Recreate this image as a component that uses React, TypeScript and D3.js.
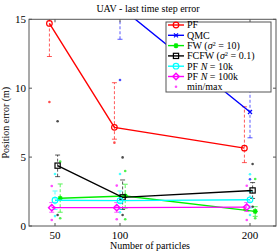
import React from 'react';
import * as d3 from 'd3';

// number of particles (x positions)
const particles = [50, 100, 200];
const xTicks = [50, 100, 200];
const yTicks = [0, 5, 10, 15];

// per-series horizontal jitter (in particles)
const seriesKeys = ['pf', 'qmc', 'fw', 'fcfw', 'pf10k', 'pf100k'];
const seriesColors = ['#ff0000', '#0000ff', '#00ee00', '#000000', '#00ffff', '#ff00ff'];
const seriesJitter = [-4.3, 0, 4, 2, 0, -2.5];

// mean position error
const pfMean = [14.7, 7.16, 5.65];
const qmcMean = [28, 15.9, 8.27];
const fwMean = [2.01, 2.18, 1.06];
const fcfwMean = [4.38, 2.08, 2.58];
const pf10kMean = [1.87, 1.84, 1.9];
const pf100kMean = [1.33, 1.33, 1.37];

// error bar extents
const pfLow = [12.3, 6.3, 4.6];
const pfHigh = [17.1, 10.4, 8.65];
const qmcLow = [24, 13.55, 6.4];
const qmcHigh = [32, 18.2, 10.6];
const fwLow = [1.0, 1.3, 0.7];
const fwHigh = [3.05, 3.03, 1.4];
const fcfwLow = [3.58, 1.2, 2.0];
const fcfwHigh = [5.15, 3.34, 3.15];
const pf10kLow = [1.2, 1.2, 1.3];
const pf10kHigh = [2.54, 2.54, 2.5];
const pf100kLow = [1.0, 1.0, 1.05];
const pf100kHigh = [1.7, 1.7, 1.7];

// min / max dots
const pfMin = [9.0, 6.05, 1.2];
const pfMax = [20, 16, 11];
const qmcMin = [20, 10.6, 3.39];
const qmcMax = [36, 22, 13];
const fwMin = [0.56, 0.49, 0.56];
const fwMax = [4.67, 3.99, 3.41];
const fcfwMin = [0.8, 0.8, 1.4];
const fcfwMax = [7.6, 4.98, 4.5];
const pf10kMin = [0.72, 1.0, 0.8];
const pf10kMax = [3.77, 3.77, 3.76];
const pf100kMin = [0.43, 0.49, 0.43];
const pf100kMax = [2.9, 2.93, 2.92];

const means = [pfMean, qmcMean, fwMean, fcfwMean, pf10kMean, pf100kMean];
const lows = [pfLow, qmcLow, fwLow, fcfwLow, pf10kLow, pf100kLow];
const highs = [pfHigh, qmcHigh, fwHigh, fcfwHigh, pf10kHigh, pf100kHigh];
const mins = [pfMin, qmcMin, fwMin, fcfwMin, pf10kMin, pf100kMin];
const maxs = [pfMax, qmcMax, fwMax, fcfwMax, pf10kMax, pf100kMax];

const W = 280;
const H = 251;
const m = { left: 29, right: 276, top: 19.3, bottom: 226 };
const font = '"Liberation Serif", "DejaVu Serif", serif';
const axisColor = '#555';

const x = d3.scaleLinear().domain([30, 220]).range([m.left, m.right]);
const y = d3.scaleLinear().domain([0, 15]).range([m.bottom, m.top]);

function Marker({ kind, cx, cy, color }: { kind: string; cx: number; cy: number; color: string }) {
  const sw = 1.2;
  if (kind === 'pf' || kind === 'pf10k') {
    return <circle cx={cx} cy={cy} r={2.8} fill="none" stroke={color} strokeWidth={sw} />;
  }
  if (kind === 'qmc') {
    const s = 2;
    return (
      <path d={`M${cx - s},${cy - s}L${cx + s},${cy + s}M${cx - s},${cy + s}L${cx + s},${cy - s}`}
        stroke={color} strokeWidth={sw} />
    );
  }
  if (kind === 'fw') {
    const s = 2.6;
    return (
      <path
        d={`M${cx - s},${cy}L${cx + s},${cy}M${cx},${cy - s}L${cx},${cy + s}M${cx - s * 0.7},${cy - s * 0.7}L${cx + s * 0.7},${cy + s * 0.7}M${cx - s * 0.7},${cy + s * 0.7}L${cx + s * 0.7},${cy - s * 0.7}`}
        stroke={color} strokeWidth={1.3} />
    );
  }
  if (kind === 'fcfw') {
    return <rect x={cx - 2.6} y={cy - 2.6} width={5.2} height={5.2} fill="none" stroke={color} strokeWidth={sw} />;
  }
  // diamond
  const s = 3.2;
  return (
    <path d={`M${cx},${cy - s}L${cx + s},${cy}L${cx},${cy + s}L${cx - s},${cy}Z`}
      fill="none" stroke={color} strokeWidth={1.4} />
  );
}

const legendLabels: React.ReactNode[] = [
  'PF',
  'QMC',
  <>FW (<tspan fontStyle="italic">σ</tspan><tspan dy={-3} fontSize={6.5}>2</tspan><tspan dy={3}> = 10)</tspan></>,
  <>FCFW (<tspan fontStyle="italic">σ</tspan><tspan dy={-3} fontSize={6.5}>2</tspan><tspan dy={3}> = 0.1)</tspan></>,
  <>PF <tspan fontStyle="italic">N</tspan> = 10k</>,
  <>PF <tspan fontStyle="italic">N</tspan> = 100k</>,
  'min/max',
];

export default function App() {
  const line = d3.line<number>();

  return (
    <svg width={W} height={H} style={{ position: 'absolute', left: 0, top: 0, background: '#fff' }}
      fontFamily={font}>
      <defs>
        <clipPath id="plot">
          <rect x={m.left} y={m.top} width={m.right - m.left} height={m.bottom - m.top} />
        </clipPath>
      </defs>

      {/* title */}
      <text x={148} y={12} textAnchor="middle" fontSize={10}>UAV - last time step error</text>

      <g clipPath="url(#plot)">
        {seriesKeys.map((k, si) => {
          const col = seriesColors[si];
          const xs = particles.map(p => x(p + seriesJitter[si]));
          const pts = particles.map((_, i) => [xs[i], y(means[si][i])] as [number, number]);
          return (
            <g key={k}>
              {/* error bars */}
              {particles.map((_, i) => (
                <g key={i} stroke={col} strokeOpacity={0.65} strokeWidth={1}>
                  <line x1={xs[i]} x2={xs[i]} y1={y(lows[si][i])} y2={y(highs[si][i])} strokeDasharray="3,2" />
                  <line x1={xs[i] - 2.5} x2={xs[i] + 2.5} y1={y(lows[si][i])} y2={y(lows[si][i])} />
                  <line x1={xs[i] - 2.5} x2={xs[i] + 2.5} y1={y(highs[si][i])} y2={y(highs[si][i])} />
                </g>
              ))}
              {/* min / max */}
              {particles.map((_, i) => (
                <g key={'mm' + i} fill={col} fillOpacity={0.7}>
                  <circle cx={xs[i]} cy={y(mins[si][i])} r={1.3} />
                  <circle cx={xs[i]} cy={y(maxs[si][i])} r={1.3} />
                </g>
              ))}
            </g>
          );
        })}
        {seriesKeys.map((k, si) => {
          const col = seriesColors[si];
          const pts = particles.map((p, i) => [x(p + seriesJitter[si]), y(means[si][i])] as [number, number]);
          return (
            <g key={'l' + k}>
              <path d={d3.line()(pts) || ''} fill="none" stroke={col} strokeWidth={1.4} />
              {pts.map((p, i) => <Marker key={i} kind={k} cx={p[0]} cy={p[1]} color={col} />)}
            </g>
          );
        })}
      </g>

      {/* axes box */}
      <rect x={m.left} y={m.top} width={m.right - m.left} height={m.bottom - m.top}
        fill="none" stroke={axisColor} strokeWidth={1} />
      {xTicks.map(t => (
        <g key={'xt' + t}>
          <line x1={x(t)} x2={x(t)} y1={m.bottom} y2={m.bottom - 3} stroke={axisColor} />
          <line x1={x(t)} x2={x(t)} y1={m.top} y2={m.top + 3} stroke={axisColor} />
          <text x={x(t)} y={239} textAnchor="middle" fontSize={11}>{t}</text>
        </g>
      ))}
      {yTicks.map(t => (
        <g key={'yt' + t}>
          <line x1={m.left} x2={m.left + 3} y1={y(t)} y2={y(t)} stroke={axisColor} />
          <line x1={m.right} x2={m.right - 3} y1={y(t)} y2={y(t)} stroke={axisColor} />
          <text x={26} y={y(t) + 3.8} textAnchor="end" fontSize={11}>{t}</text>
        </g>
      ))}

      <text x={150} y={249} textAnchor="middle" fontSize={10}>Number of particles</text>
      <text transform={`translate(9,${(m.top + m.bottom) / 2}) rotate(-90)`} textAnchor="middle" fontSize={10}>
        Position error (m)
      </text>

      {/* legend */}
      <g>
        <rect x={166} y={22} width={105} height={70} fill="#fff" stroke={axisColor} strokeWidth={1} />
        {legendLabels.map((lab, i) => {
          const ly = 25 + i * 10.3;
          if (i === 6) {
            return (
              <g key={i}>
                <circle cx={176} cy={ly} r={1.3} fill="#ff00ff" fillOpacity={0.7} />
                <text x={187} y={ly + 3.3} fontSize={10}>{lab}</text>
              </g>
            );
          }
          return (
            <g key={i}>
              <line x1={168} x2={184} y1={ly} y2={ly} stroke={seriesColors[i]} strokeWidth={1.4} />
              <Marker kind={seriesKeys[i]} cx={176} cy={ly} color={seriesColors[i]} />
              <text x={187} y={ly + 3.3} fontSize={10}>{lab}</text>
            </g>
          );
        })}
      </g>
    </svg>
  );
}
